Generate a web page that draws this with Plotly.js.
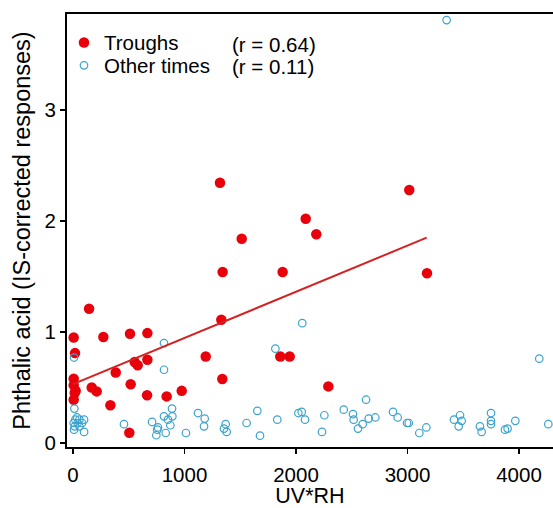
<!DOCTYPE html>
<html>
<head>
<meta charset="utf-8">
<script src="https://cdn.plot.ly/plotly-3.0.1.min.js"></script>
<style>html,body{margin:0;padding:0;background:#fff;}#chart{width:553px;height:508px;}</style>
</head>
<body>
<div id="chart"></div>
<script>
// Troughs (red filled)
const troughX = [1318, 2087, 1513, 1342, 1880, 144, 1330, 6, 272, 511, 667, 18, 1190, 1859, 1943, 667, 553, 580, 383, 6, 1339, 517, 6, 168, 24, 212, 15, 975, 664, 840, 6, 335, 505, 3016, 2182, 3175, 2290];
const troughY = [2.345, 2.02, 1.84, 1.54, 1.54, 1.21, 1.11, 0.95, 0.955, 0.985, 0.99, 0.81, 0.78, 0.78, 0.78, 0.75, 0.73, 0.70, 0.635, 0.58, 0.577, 0.53, 0.52, 0.50, 0.47, 0.465, 0.45, 0.47, 0.43, 0.42, 0.39, 0.34, 0.093, 2.28, 1.88, 1.53, 0.51];
// Other times (open circles)
const otherX = [3351, 9, 816, 816, 1815, 2056, 4182, 12, 36, 21, 57, 99, 6, 42, 81, 15, 57, 9, 99,
  457, 888, 816, 852, 891, 709, 762, 756, 747, 831, 873, 1013, 1121, 1181, 1175, 1369, 1354, 1378,
  1557, 1653, 1677, 1832, 2021, 2051, 2081, 2254, 2233,
  2428, 2628, 2511, 2517, 2556, 2598, 2652, 2711, 2870, 2912, 2996, 3011, 3106, 3169,
  3417, 3471, 3486, 3459, 3650, 3665, 3749, 3749, 3749, 3874, 3898, 3967, 4263];
const otherY = [3.81, 0.77, 0.90, 0.66, 0.85, 1.08, 0.76, 0.31, 0.23, 0.21, 0.21, 0.21, 0.18, 0.18, 0.18, 0.15, 0.15, 0.12, 0.10,
  0.17, 0.31, 0.24, 0.21, 0.24, 0.19, 0.14, 0.12, 0.07, 0.09, 0.16, 0.09, 0.27, 0.22, 0.15, 0.17, 0.13, 0.10,
  0.18, 0.29, 0.066, 0.21, 0.27, 0.28, 0.21, 0.25, 0.10,
  0.30, 0.39, 0.26, 0.21, 0.13, 0.17, 0.22, 0.23, 0.28, 0.23, 0.18, 0.18, 0.09, 0.14,
  0.21, 0.25, 0.20, 0.15, 0.15, 0.10, 0.27, 0.20, 0.17, 0.12, 0.13, 0.20, 0.17];
// Regression line for troughs
const fitX = [0, 3172];
const fitY = [0.53, 1.85];
const seriesNames = ["Troughs", "Other times"];
const rLabels = ["(r = 0.64)", "(r = 0.11)"];
const xTicks = [0, 1000, 2000, 3000, 4000];
const yTicks = [0, 1, 2, 3];

const FONT = "Liberation Sans, Arial, sans-serif";
const traces = [
  {x: troughX, y: troughY, type: "scatter", mode: "markers", name: seriesNames[0], legend: "legend",
   marker: {color: "#e8000b", size: 10.5, line: {width: 0}}},
  {x: otherX, y: otherY, type: "scatter", mode: "markers", name: seriesNames[1], legend: "legend2",
   marker: {color: "#3ba3cf", size: 7.5, symbol: "circle-open", line: {color: "#3ba3cf", width: 1.2}}},
  {x: fitX, y: fitY, type: "scatter", mode: "lines", showlegend: false,
   line: {color: "#d42222", width: 2}}
];
const legendFont = {family: FONT, size: 20.5, color: "#000"};
const layout = {
  width: 553, height: 508,
  margin: {l: 67, r: 0, t: 14, b: 61},
  paper_bgcolor: "#fff", plot_bgcolor: "#fff",
  font: {family: FONT, size: 20, color: "#000"},
  showlegend: true,
  legend: {x: -0.0062, y: 0.980, xanchor: "left", yanchor: "top", bgcolor: "rgba(0,0,0,0)",
           font: legendFont, itemwidth: 30},
  legend2: {x: -0.0062, y: 0.9273, xanchor: "left", yanchor: "top", bgcolor: "rgba(0,0,0,0)",
           font: legendFont, itemwidth: 30},
  xaxis: {range: [-54, 4305], tickvals: xTicks, ticktext: xTicks.map(String), automargin: false,
          showgrid: false, zeroline: false, showline: true, linecolor: "#000", linewidth: 2,
          mirror: true, ticks: "outside", ticklen: 5, tickwidth: 1.5, tickcolor: "#000",
          ticklabelstandoff: 3,
          tickfont: {family: FONT, size: 20.5},
          title: {text: "UV*RH", font: {family: FONT, size: 21.5}, standoff: 6}},
  yaxis: {range: [-0.036, 3.865], tickvals: yTicks, ticktext: yTicks.map(String), automargin: false,
          showgrid: false, zeroline: false, showline: true, linecolor: "#000", linewidth: 2,
          ticks: "outside", ticklen: 5, tickwidth: 1.5, tickcolor: "#000",
          tickfont: {family: FONT, size: 20.5},
          title: {text: "Phthalic acid (IS-corrected responses)", font: {family: FONT, size: 23.5}, standoff: 7}},
  annotations: [
    {xref: "paper", yref: "paper", x: (230 - 67) / 486, y: 1 - (44 - 14) / 433, xanchor: "left", yanchor: "middle",
     text: rLabels[0], showarrow: false, font: legendFont},
    {xref: "paper", yref: "paper", x: (230 - 67) / 486, y: 1 - (67 - 14) / 433, xanchor: "left", yanchor: "middle",
     text: rLabels[1], showarrow: false, font: legendFont}
  ]
};
Plotly.newPlot("chart", traces, layout, {displayModeBar: false, staticPlot: true});
</script>
</body>
</html>
